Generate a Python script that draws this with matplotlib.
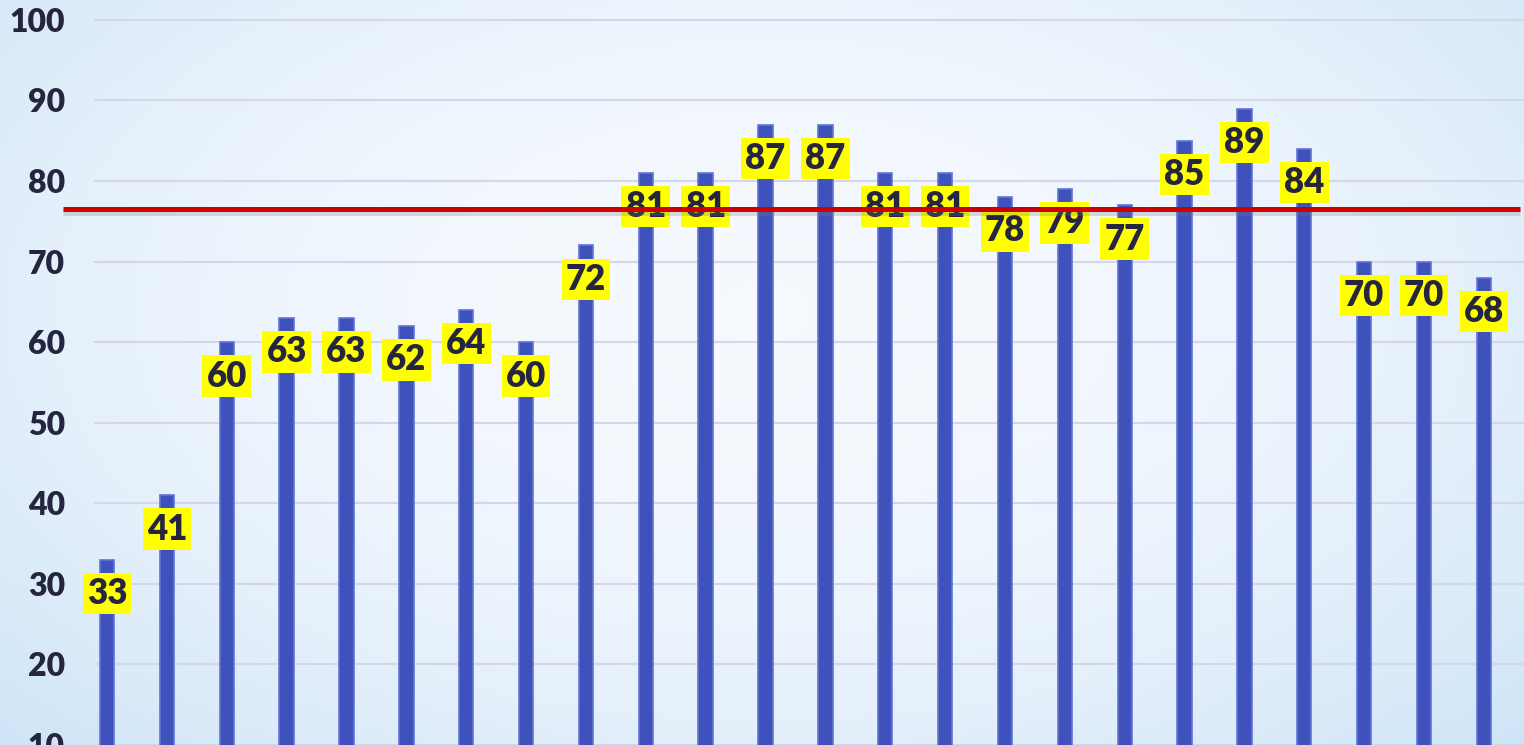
import matplotlib
matplotlib.use("Agg")
import matplotlib.pyplot as plt
import numpy as np

values = [33, 41, 60, 63, 63, 62, 64, 60, 72, 81, 81, 87,
          87, 81, 81, 78, 79, 77, 85, 89, 84, 70, 70, 68]
target = 76.5
yticks = [10, 20, 30, 40, 50, 60, 70, 80, 90, 100]

plt.rcParams['font.family'] = ['Lato', 'DejaVu Sans']

fig = plt.figure(figsize=(15.24, 7.45), dpi=100)

# background gradient: pale blue at the edges, nearly white in the middle
bg = fig.add_axes([0, 0, 1, 1], zorder=-10)
gy, gx = np.mgrid[0:1:200j, 0:1:400j]
d = np.sqrt(((gx - 0.5) / 0.72) ** 2 + ((gy - 0.42) / 0.85) ** 2)
d = np.clip(d, 0, 1)
c_in = np.array([0.965, 0.978, 0.997])
c_out = np.array([0.80, 0.89, 0.965])
img = c_in + (c_out - c_in) * d[..., None] ** 2
bg.imshow(img, extent=[0, 1, 0, 1], aspect='auto', origin='upper')
bg.axis('off')

ax = fig.add_axes([94 / 1524, 0, 1 - 94 / 1524, 1])
ax.patch.set_alpha(0)
x = np.arange(len(values))
ax.bar(x, values, width=0.24, color='#3f52bc', edgecolor='#6274d6',
       linewidth=1.2, zorder=3)

for xi, v in zip(x, values):
    ax.text(xi, v - 4.2, str(v), ha='center', va='center', fontsize=25,
            fontweight='heavy', color='#25253f', zorder=4,
            bbox=dict(boxstyle='square,pad=0.12', fc='#ffff00', ec='none'))

# target line with a soft shadow, reaching a bit past the axis on the left
ax.plot([-0.022, 0.997], [target - 0.3, target - 0.3],
        transform=ax.get_yaxis_transform(), color='#777777', alpha=0.25,
        linewidth=5, zorder=4.9, clip_on=False, solid_capstyle='butt')
ax.plot([-0.022, 0.997], [target, target], transform=ax.get_yaxis_transform(),
        color='#cc0000', linewidth=3.6, zorder=5, clip_on=False,
        solid_capstyle='butt')

ax.set_xlim(-0.217, 23.67)
ax.set_ylim(10.5, 102.47)
ax.set_yticks(yticks)
ax.set_yticklabels([str(t) for t in yticks], fontsize=23, fontweight='heavy',
                   color='#25253f')
ax.tick_params(axis='y', length=0, pad=21)
ax.set_xticks([])
ax.grid(axis='y', color='#d6d6ea', linewidth=1.5, zorder=0)
for s in ax.spines.values():
    s.set_visible(False)

fig.savefig('out.png', dpi=100)
